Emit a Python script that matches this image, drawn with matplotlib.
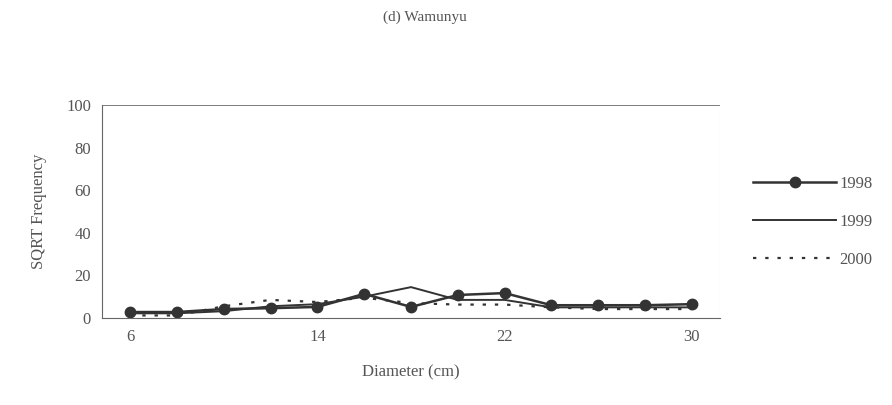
import matplotlib
matplotlib.use("Agg")
import matplotlib.pyplot as plt
from matplotlib.lines import Line2D

diameters = [6, 8, 10, 12, 14, 16, 18, 20, 22, 24, 26, 28, 30]
y1998 = [2.8, 2.8, 4.2, 4.6, 5.2, 11.3, 5.2, 10.8, 11.7, 6, 6, 6, 6.5]
y1999 = [2.2, 2.2, 3.2, 5.5, 6.5, 10, 14.5, 8.5, 8.5, 5, 5, 5, 5]
y2000 = [1.2, 1.2, 5.5, 8.5, 7.5, 9.5, 7, 6.3, 6.3, 5, 4.2, 4.2, 4.2]
tick_labels = [6, 14, 22, 30]
ytick_vals = [0, 20, 40, 60, 80, 100]

plt.rcParams['font.family'] = ['Liberation Serif', 'DejaVu Serif']
txt = '#555555'
ink = '#333333'

fig = plt.figure(figsize=(8.92, 4.05), dpi=100)
ax = fig.add_axes([102/892, 1-318/405, 618/892, 213/405])

ax.plot(diameters, y1998, color=ink, lw=1.8, marker='o', ms=7.5, mfc=ink, mec=ink, label='1998')
ax.plot(diameters, y1999, color=ink, lw=1.4, label='1999')
ax.plot(diameters, y2000, color=ink, lw=1.6, ls=(0, (1.5, 4)), label='2000')

ax.set_xlim(4.8, 31.2)
ax.set_ylim(0, 100)
ax.set_xticks(tick_labels)
ax.set_xticklabels([str(t) for t in tick_labels])
ax.set_yticks(ytick_vals)
ax.tick_params(length=0, labelsize=12, colors=txt, pad=8)
ax.axhline(100, color='#666666', lw=1.2)
for s in ['top', 'right']:
    ax.spines[s].set_visible(False)
ax.spines['left'].set_color('#666666')
ax.spines['bottom'].set_color('#666666')
ax.plot([1, 1], [0, 1], transform=ax.transAxes, color='#dddddd', lw=0.8)

ax.set_xlabel('Diameter (cm)', fontsize=12, color=txt, labelpad=14)
ax.set_ylabel('SQRT Frequency', fontsize=12, color=txt, labelpad=14)
fig.text(425/892, 1-17/405, '(d) Wamunyu', ha='center', va='center', fontsize=11, color=txt)

handles = [
    Line2D([], [], color=ink, lw=1.8, marker='o', ms=7.5, mfc=ink, mec=ink),
    Line2D([], [], color=ink, lw=1.4),
    Line2D([], [], color=ink, lw=1.6, ls=(0, (1.5, 4))),
]
leg = fig.legend(handles, ['1998', '1999', '2000'], loc='center left',
                 bbox_to_anchor=(738/892, 1-222/405), frameon=False, fontsize=12,
                 handlelength=5, handletextpad=0.2, labelspacing=1.3, markerfirst=True)
for t in leg.get_texts():
    t.set_color(txt)

fig.savefig('out.png', dpi=100)
